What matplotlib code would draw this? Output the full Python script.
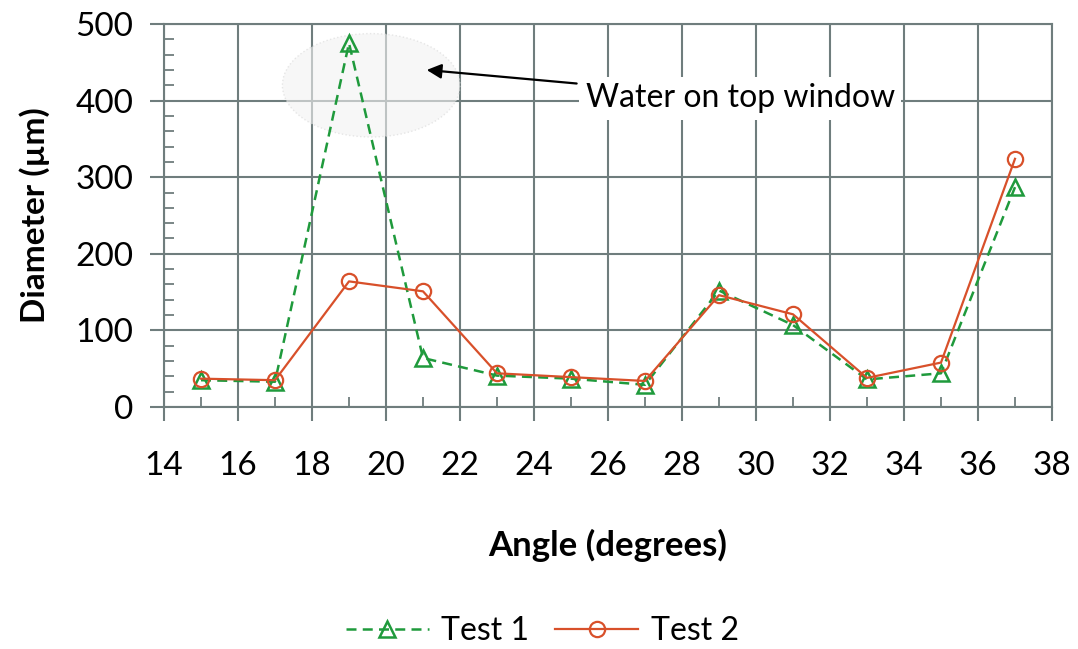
import matplotlib
matplotlib.use("Agg")
import matplotlib.pyplot as plt
from matplotlib.patches import Ellipse
from matplotlib.ticker import MultipleLocator, FixedLocator

plt.rcParams["font.family"] = ["Lato", "DejaVu Sans"]

# data
angle = [15, 17, 19, 21, 23, 25, 27, 29, 31, 33, 35, 37]
test1 = [35, 33, 475, 64, 41, 37, 29, 152, 107, 36, 44, 287]
test2 = [37, 35, 164, 151, 44, 39, 34, 146, 121, 38, 58, 324]
x_ticks = list(range(14, 39, 2))
y_ticks = [0, 100, 200, 300, 400, 500]

GRID = "#6f7d7d"
GREEN = "#1f9a3c"
RED = "#d8502a"

fig = plt.figure(figsize=(10.78, 6.49), dpi=100)
ax = fig.add_axes([164 / 1078, 1 - 407 / 649, 888 / 1078, 383 / 649])
ax.set_xlim(14, 38)
ax.set_ylim(0, 500)

ax.xaxis.set_major_locator(FixedLocator(x_ticks))
ax.yaxis.set_major_locator(FixedLocator(y_ticks))
ax.xaxis.set_minor_locator(MultipleLocator(1))
ax.yaxis.set_minor_locator(MultipleLocator(20))
ax.grid(True, which="major", color=GRID, lw=1.5)
ax.set_axisbelow(True)
for s in ax.spines.values():
    s.set_color(GRID)
    s.set_linewidth(1.5)

ax.tick_params(which="major", direction="out", length=10, width=1.5,
               color=GRID, labelsize=24, pad=12)
ax.tick_params(which="minor", direction="in", length=7, width=1.3,
               color=GRID)
ax.tick_params(axis="x", which="major", pad=22)

# faint water blob near the top
ax.add_patch(Ellipse((19.6, 420), 4.8, 135, facecolor="#f3f3f3",
                     edgecolor="#d8d8d8", lw=1.0, ls=":", alpha=0.6,
                     zorder=1.5))

ax.plot(angle, test1, ls=(0, (4, 2.5)), color=GREEN, lw=1.8, marker="^",
        ms=11, mfc="none", mec=GREEN, mew=1.8, label="Test 1", zorder=3)
ax.plot(angle, test2, ls="-", color=RED, lw=1.6, marker="o",
        ms=11, mfc="none", mec=RED, mew=1.6, label="Test 2", zorder=3)

ax.annotate("Water on top window", xy=(21.1, 440), xytext=(25.4, 403),
            fontsize=23, ha="left", va="center",
            bbox=dict(boxstyle="square,pad=0.2", fc="white", ec="none"),
            arrowprops=dict(arrowstyle="-|>", color="black", lw=1.6,
                            mutation_scale=22, shrinkA=2, shrinkB=0),
            zorder=4)

ax.set_ylabel("Diameter (\u00b5m)", fontsize=24, fontweight="bold",
              labelpad=18)
ax.set_xlabel("Angle (degrees)", fontsize=25, fontweight="bold",
              labelpad=34)

fig.legend(loc="center", bbox_to_anchor=(0.503, 0.027), ncol=2,
           frameon=False, fontsize=23, handlelength=2.6,
           columnspacing=0.8, handletextpad=0.4)

fig.savefig("out.png", dpi=100, facecolor="white")
